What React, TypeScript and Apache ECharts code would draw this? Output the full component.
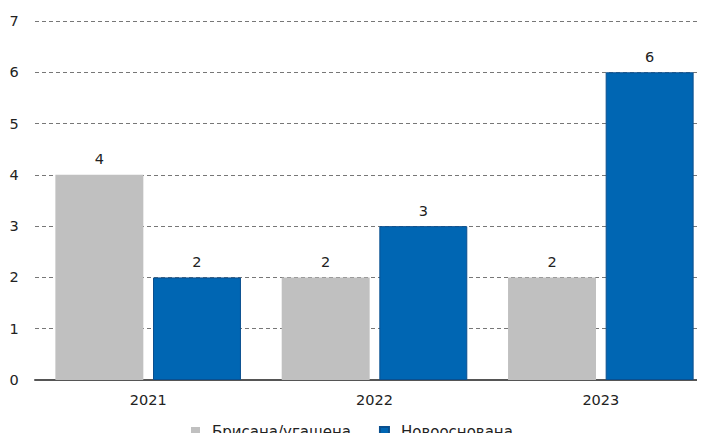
import React, { useEffect, useRef } from "react";
import * as echarts from "echarts";

const categories = ["2021", "2022", "2023"];
const closedValues = [4, 2, 2];
const newValues = [2, 3, 6];
const seriesNames = ["Брисана/угашена", "Новооснована"];

export default function App() {
  const ref = useRef<HTMLDivElement>(null);
  useEffect(() => {
    if (!ref.current) return;
    const chart = echarts.init(ref.current, null, { renderer: "svg" });
    const font = "'DejaVu Sans', Verdana, sans-serif";
    chart.setOption({
      animation: false,
      textStyle: { fontFamily: font },
      grid: { left: 35, right: -9, top: 21, bottom: 61, containLabel: false, outerBoundsMode: "none" },
      legend: {
        top: 424,
        left: 191,
        padding: 0,
        itemWidth: 9,
        itemHeight: 9,
        itemGap: 28,
        icon: "rect",
        textStyle: { fontSize: 15, color: "#222", fontFamily: font, padding: [0, 0, 0, 7] },
        data: seriesNames,
      },
      xAxis: {
        type: "category",
        data: categories,
        axisLine: { lineStyle: { color: "#555", width: 2 } },
        axisTick: { show: false },
        axisLabel: { fontSize: 14.5, color: "#222", margin: 12, fontFamily: font },
      },
      yAxis: {
        type: "value",
        min: 0,
        max: 7,
        interval: 1,
        axisLine: { show: false },
        axisTick: { show: false },
        axisLabel: { fontSize: 14.5, color: "#222", margin: 21, fontFamily: font, align: "center" },
        splitLine: { lineStyle: { color: "#777", type: [4, 3], width: 1 } },
      },
      series: [
        {
          name: seriesNames[0],
          type: "bar",
          data: closedValues,
          barCategoryGap: "18%",
          barGap: "11%",
          itemStyle: { color: "#c0c0c0" },
          label: { show: true, position: "top", fontSize: 14.5, color: "#222", distance: 8, fontFamily: font },
        },
        {
          name: seriesNames[1],
          type: "bar",
          data: newValues,
          barCategoryGap: "18%",
          barGap: "11%",
          itemStyle: { color: "#0066b3", borderColor: "#0a4f8f", borderWidth: 1 },
          label: { show: true, position: "top", fontSize: 14.5, color: "#222", distance: 8, fontFamily: font },
        },
      ],
    });
    return () => chart.dispose();
  }, []);
  return <div ref={ref} style={{ width: 705, height: 441, margin: -8 }} />;
}
